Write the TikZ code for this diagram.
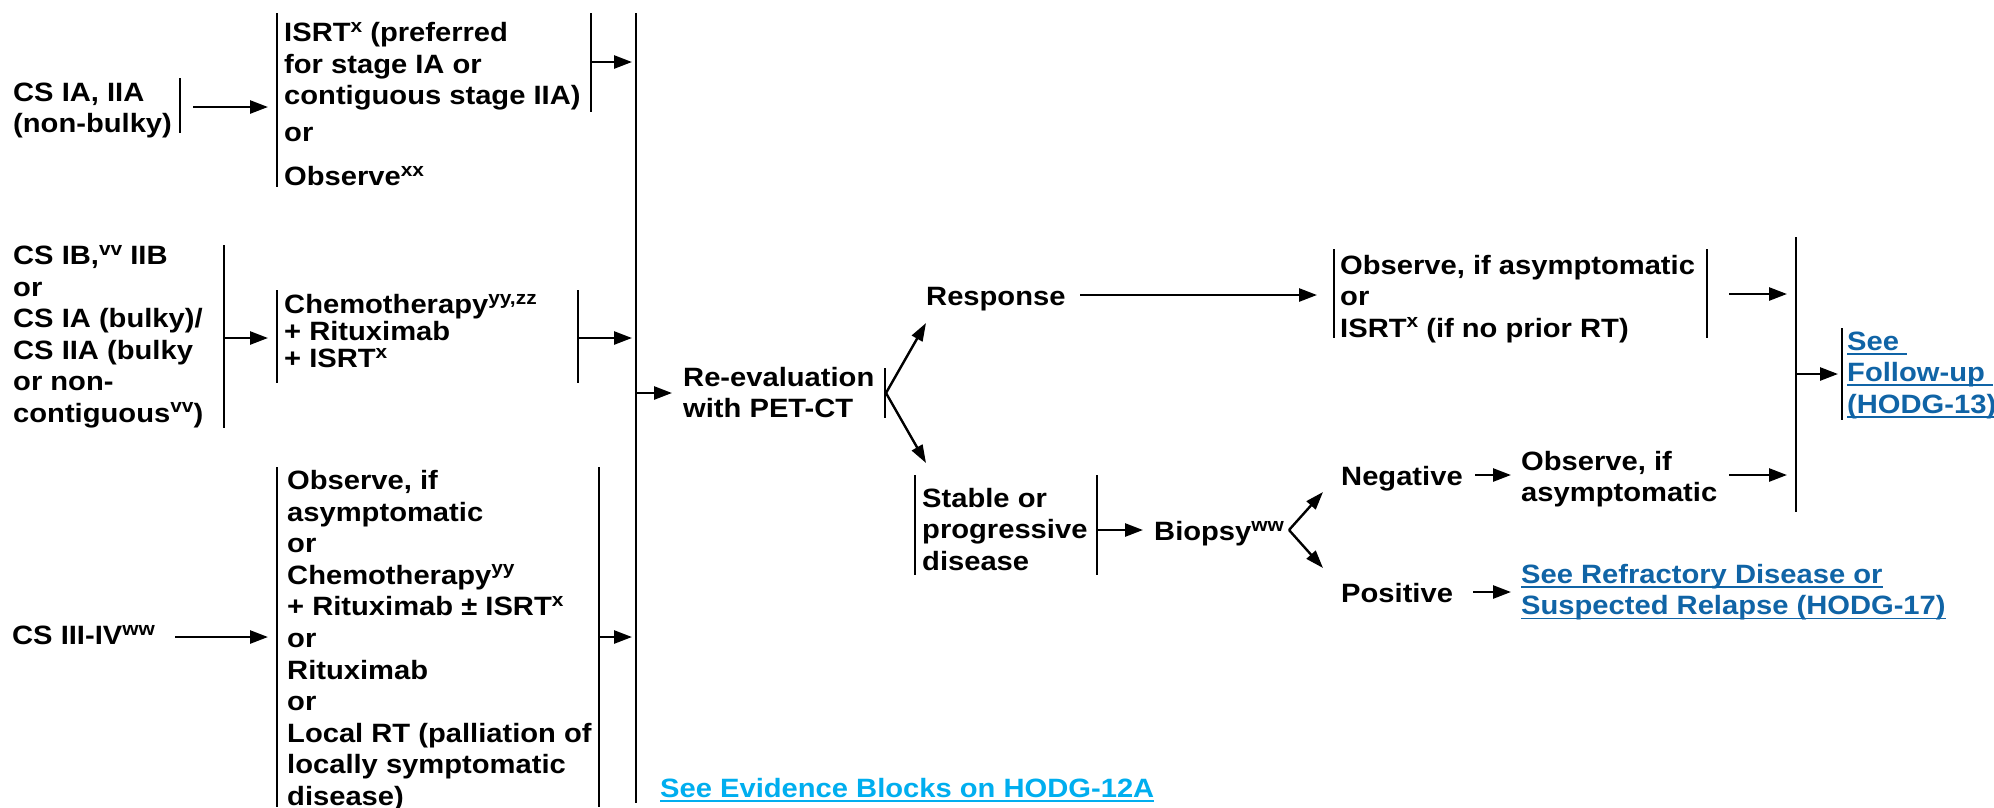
\documentclass[tikz,border=0pt]{standalone}
\usepackage{fontspec}
\setmainfont{Liberation Sans}[FakeStretch=1.1]
\usetikzlibrary{arrows.meta}
\definecolor{linkblue}{RGB}{16,100,166}
\definecolor{evblue}{RGB}{0,174,239}
\newcommand\sps[1]{\raisebox{9.5pt}{\fontsize{19pt}{19pt}\selectfont #1}}
\newcommand\fl{\rule{0pt}{19pt}}
\newcommand\myul[1]{\setbox0=\hbox{#1}\rlap{\rule[-4.5pt]{\wd0}{1.8pt}}\box0}
\begin{document}
\begin{tikzpicture}[x=1pt,y=-1pt,
  txt/.style={anchor=north west,inner sep=0pt,align=left,font=\fontsize{26.5pt}{31.5pt}\selectfont\bfseries},
  bar/.style={line width=2.4pt},
  bigbar/.style={line width=2.8pt},
  arr/.style={line width=2.6pt,-{Triangle[length=18pt,width=13pt]}},
  fork/.style={line width=2.4pt,-{Triangle[length=18pt,width=12pt]}},
]
\clip (0,0) rectangle (1994,807);
\fill[white] (0,0) rectangle (1994,807);

% ---------- text nodes ----------
\node[txt] (n1) at (13,82) {\fl CS IA, IIA\\(non-bulky)};
\node[txt] (isrt) at (284,22) {\fl ISRT\sps{x} (preferred\\for stage IA or\\contiguous stage IIA)};
\node[txt] (or1) at (284,122) {\fl or};
\node[txt] (obs1) at (284,166) {\fl Observe\sps{xx}};
\node[txt] (n2) at (13,245) {\fl CS IB,\sps{vv} IIB\\or\\CS IA (bulky)/\\CS IIA (bulky\\or non-\\contiguous\sps{vv})};
\node[txt,font=\fontsize{26.5pt}{27pt}\selectfont\bfseries] (chemo) at (284,294) {\fl Chemotherapy\sps{yy,zz}\\+ Rituximab\\+ ISRT\sps{x}};
\node[txt] (n3) at (12,625) {\fl CS III-IV\sps{ww}};
\node[txt,font=\fontsize{26.5pt}{31.6pt}\selectfont\bfseries] (opt3) at (287,470) {\fl Observe, if\\asymptomatic\\or\\Chemotherapy\sps{yy}\\+ Rituximab ± ISRT\sps{x}\\or\\Rituximab\\or\\Local RT (palliation of\\locally symptomatic\\disease)};
\node[txt] (reev) at (683,367) {\fl Re-evaluation\\with PET-CT};
\node[txt] (resp) at (926,286) {\fl Response};
\node[txt] (obs2) at (1340,255) {\fl Observe, if asymptomatic\\or\\ISRT\sps{x} (if no prior RT)};
\node[txt,text=linkblue] (fu) at (1847,331) {\fl\myul{See }\\\myul{Follow-up }\\\myul{(HODG-13)}};
\node[txt] (stab) at (922,488) {\fl Stable or\\progressive\\disease};
\node[txt] (biop) at (1154,521) {\fl Biopsy\sps{ww}};
\node[txt] (neg) at (1341,466) {\fl Negative};
\node[txt] (obs3) at (1521,451) {\fl Observe, if\\asymptomatic};
\node[txt] (pos) at (1341,583) {\fl Positive};
\node[txt,text=linkblue] (refr) at (1521,564) {\fl\myul{See Refractory Disease or}\\\myul{Suspected Relapse (HODG-17)}};
\node[txt,text=evblue] (ev) at (660,778) {\fl\myul{See Evidence Blocks on HODG-12A}};

% ---------- bars ----------
\coordinate (b1t) at (180,78);   \coordinate (b1b) at (180,133);
\coordinate (isLt) at (277,13);  \coordinate (isLb) at (277,187);
\coordinate (isRt) at (591,13);  \coordinate (isRb) at (591,112);
\coordinate (bigt) at (636,13);  \coordinate (bigb) at (636,803);
\coordinate (b2t) at (224,245);  \coordinate (b2b) at (224,428);
\coordinate (chLt) at (277,290); \coordinate (chLb) at (277,383);
\coordinate (chRt) at (578,290); \coordinate (chRb) at (578,383);
\coordinate (o3Lt) at (277,467); \coordinate (o3Lb) at (277,807);
\coordinate (o3Rt) at (599,467); \coordinate (o3Rb) at (599,807);
\coordinate (reRt) at (885,368); \coordinate (reRb) at (885,418);
\coordinate (o2Lt) at (1334,249); \coordinate (o2Lb) at (1334,338);
\coordinate (o2Rt) at (1707,249); \coordinate (o2Rb) at (1707,338);
\coordinate (rbt) at (1796,237); \coordinate (rbb) at (1796,512);
\coordinate (fuLt) at (1842,328); \coordinate (fuLb) at (1842,420);
\coordinate (stLt) at (915,475); \coordinate (stLb) at (915,575);
\coordinate (stRt) at (1097,475); \coordinate (stRb) at (1097,575);

\foreach \a/\b in {b1t/b1b,isLt/isLb,isRt/isRb,b2t/b2b,chLt/chLb,chRt/chRb,o3Lt/o3Lb,o3Rt/o3Rb,reRt/reRb,o2Lt/o2Lb,o2Rt/o2Rb,fuLt/fuLb,stLt/stLb,stRt/stRb}
  \draw[bar] (\a) -- (\b);
\draw[bigbar] (bigt) -- (bigb);
\draw[bigbar] (rbt) -- (rbb);

% ---------- arrows ----------
\coordinate (a1s) at (193,107);  \coordinate (a1e) at (268,107);
\coordinate (a2s) at (591,62);   \coordinate (a2e) at (632,62);
\coordinate (a3s) at (224,338);  \coordinate (a3e) at (268,338);
\coordinate (a4s) at (578,338);  \coordinate (a4e) at (632,338);
\coordinate (a5s) at (175,637);  \coordinate (a5e) at (268,637);
\coordinate (a6s) at (599,637);  \coordinate (a6e) at (632,637);
\coordinate (a7s) at (636,393);  \coordinate (a7e) at (672,393);
\coordinate (fk1) at (886,393);  \coordinate (fk1u) at (926,323); \coordinate (fk1d) at (926,463);
\coordinate (a8s) at (1080,295); \coordinate (a8e) at (1317,295);
\coordinate (a9s) at (1729,294); \coordinate (a9e) at (1787,294);
\coordinate (a10s) at (1796,374); \coordinate (a10e) at (1838,374);
\coordinate (a11s) at (1097,530); \coordinate (a11e) at (1143,530);
\coordinate (fk2) at (1289,530); \coordinate (fk2u) at (1323,492); \coordinate (fk2d) at (1323,568);
\coordinate (a12s) at (1475,475); \coordinate (a12e) at (1511,475);
\coordinate (a13s) at (1729,475); \coordinate (a13e) at (1787,475);
\coordinate (a14s) at (1473,592); \coordinate (a14e) at (1511,592);

\foreach \a/\b in {a1s/a1e,a2s/a2e,a3s/a3e,a4s/a4e,a5s/a5e,a6s/a6e,a7s/a7e,a8s/a8e,a9s/a9e,a10s/a10e,a11s/a11e,a12s/a12e,a13s/a13e,a14s/a14e}
  \draw[arr] (\a) -- (\b);
\draw[fork] (fk1) -- (fk1u);
\draw[fork] (fk1) -- (fk1d);
\draw[fork] (fk2) -- (fk2u);
\draw[fork] (fk2) -- (fk2d);
\end{tikzpicture}
\end{document}
